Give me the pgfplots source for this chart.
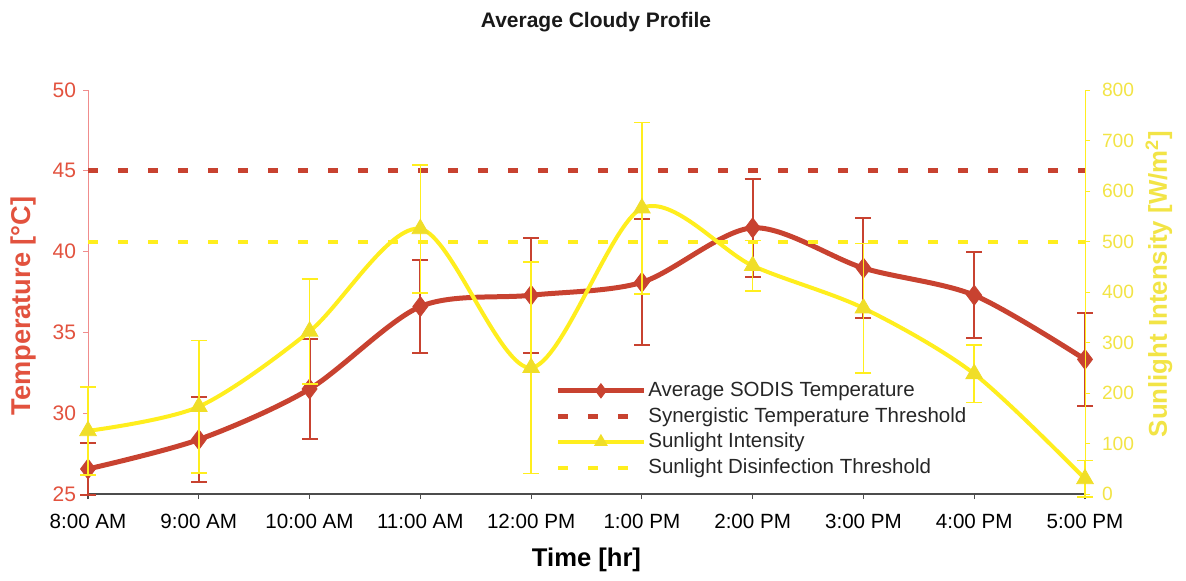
\documentclass[border=0pt]{standalone}
\usepackage{fontspec}
\setmainfont{Liberation Sans}
\usepackage{pgfplots}
\pgfplotsset{compat=1.18}
\definecolor{tred}{RGB}{200,66,48}
\definecolor{tredlbl}{RGB}{226,82,62}
\definecolor{syel}{RGB}{255,238,30}
\definecolor{symark}{RGB}{240,222,40}
\definecolor{syellbl}{RGB}{242,228,70}
\definecolor{redaxis}{RGB}{240,140,140}
\begin{document}
\begin{tikzpicture}
\pgfplotsset{
  every axis/.append style={
    scale only axis, width=498.5pt, height=202pt,
    xmin=0, xmax=9, clip=false,
    /pgf/number format/assume math mode=true,
    tick align=outside, major tick length=2.5pt,
    axis line style={-},
  },
  tempstyle/.style={color=tred, line width=2.5pt, smooth, mark=diamond*, mark size=5pt,
    mark options={solid, fill=tred, draw=tred, line width=0.4pt}},
  sunstyle/.style={color=syel, line width=2pt, smooth, mark=triangle*, mark size=4.8pt,
    mark options={solid, fill=symark, draw=symark, line width=0.4pt}},
  tthr/.style={color=tred, line width=2.5pt, dash pattern=on 5pt off 10pt},
  sthr/.style={color=syel, line width=2pt, dash pattern=on 5pt off 10pt},
}
\begin{axis}[
  axis x line*=bottom, axis y line*=left,
  ymin=25, ymax=50, ytick={25,30,...,50},
  xtick={0,...,9},
  xticklabels={8:00 AM, 9:00 AM, 10:00 AM, 11:00 AM, 12:00 PM, 1:00 PM, 2:00 PM, 3:00 PM, 4:00 PM, 5:00 PM},
  x axis line style={draw=black!70, line width=0.6pt},
  y axis line style={draw=redaxis, line width=0.5pt},
  xtick style={draw=black!70, line width=0.6pt},
  ytick style={draw=redaxis, line width=0.5pt},
  xticklabel style={font=\fontsize{10.3}{12}\selectfont, text=black, yshift=-4pt},
  yticklabel style={font=\fontsize{10.5}{12}\selectfont, text=tredlbl},
  xlabel={Time [hr]},
  every axis x label/.style={at={(axis description cs:0.5,0)}, anchor=center, yshift=-33pt,
    font=\bfseries\fontsize{12.8}{14}\selectfont},
  ylabel={Temperature [°C]},
  every axis y label/.style={at={(axis description cs:0,0.5)}, xshift=-32.5pt, yshift=-7pt, rotate=90, anchor=center,
    font=\bfseries\fontsize{13.6}{15}\selectfont, text=tredlbl},
]
\addplot[tempstyle, error bars/.cd, y dir=both, y explicit,
  error bar style={line width=1pt, solid, draw=tred},
  error mark options={rotate=90, mark size=4pt, line width=1pt, draw=tred}]
  coordinates {
  (0,26.55) +- (0,1.6)
  (1,28.37) +- (0,2.63)
  (2,31.5) +- (0,3.1)
  (3,36.6) +- (0,2.9)
  (4,37.3) +- (0,3.55)
  (5,38.1) +- (0,3.9)
  (6,41.47) +- (0,3.04)
  (7,38.98) +- (0,3.1)
  (8,37.3) +- (0,2.65)
  (9,33.33) +- (0,2.88)
  };
\addplot[tthr] coordinates {(0,45) (9,45)};
\end{axis}
\begin{axis}[
  axis x line=none, axis y line*=right,
  ymin=0, ymax=800, ytick={0,100,...,800},
  y axis line style={draw=syel, line width=0.5pt},
  ytick style={draw=syel, line width=0.5pt},
  yticklabel style={font=\fontsize{9.6}{12}\selectfont, text=syellbl, xshift=2.5pt},
  ylabel={Sunlight Intensity [W/m\textsuperscript{2}]},
  every axis y label/.style={at={(axis description cs:1,0.5)}, xshift=37pt, yshift=4pt, rotate=90, anchor=center,
    font=\bfseries\fontsize{12.9}{14}\selectfont, text=syellbl},
  legend style={at={(rel axis cs:0.4624,0.2946)}, anchor=north west, draw=none, fill=none,
    font=\fontsize{10.25}{12}\selectfont, text=black!85, row sep=1.1pt,
    nodes={inner xsep=1pt, inner ysep=1.4pt}},
  legend cell align=left,
  legend image code/.code={
    \draw[#1, mark repeat=2, mark phase=2] plot coordinates {(0pt,0pt) (21.5pt,0pt) (43pt,0pt)};
  },
]
\addlegendimage{tempstyle, mark size=3.6pt}
\addlegendentry{Average SODIS Temperature}
\addlegendimage{tthr}
\addlegendentry{Synergistic Temperature Threshold}
\addlegendimage{sunstyle, mark size=3.6pt}
\addlegendentry{Sunlight Intensity}
\addlegendimage{sthr}
\addlegendentry{Sunlight Disinfection Threshold}
\addplot[sunstyle, forget plot, error bars/.cd, y dir=both, y explicit,
  error bar style={line width=0.8pt, solid, draw=syel},
  error mark options={rotate=90, mark size=4pt, line width=0.8pt, draw=syel}]
  coordinates {
  (0,125) +- (0,87)
  (1,173) +- (0,131)
  (2,322) +- (0,104)
  (3,525) +- (0,127)
  (4,250) +- (0,209)
  (5,566) +- (0,170)
  (6,452) +- (0,50)
  (7,368) +- (0,128)
  (8,238) +- (0,57)
  (9,30) +- (0,36)
  };
\addplot[sthr, forget plot] coordinates {(0,500) (9,500)};
\end{axis}
\node[font=\bfseries\fontsize{10.5}{12}\selectfont, text=black!90] at (254pt,236pt) {Average Cloudy Profile};
\pgfresetboundingbox
\useasboundingbox (-44pt,-43pt) rectangle (549pt,247pt);
\end{tikzpicture}
\end{document}
